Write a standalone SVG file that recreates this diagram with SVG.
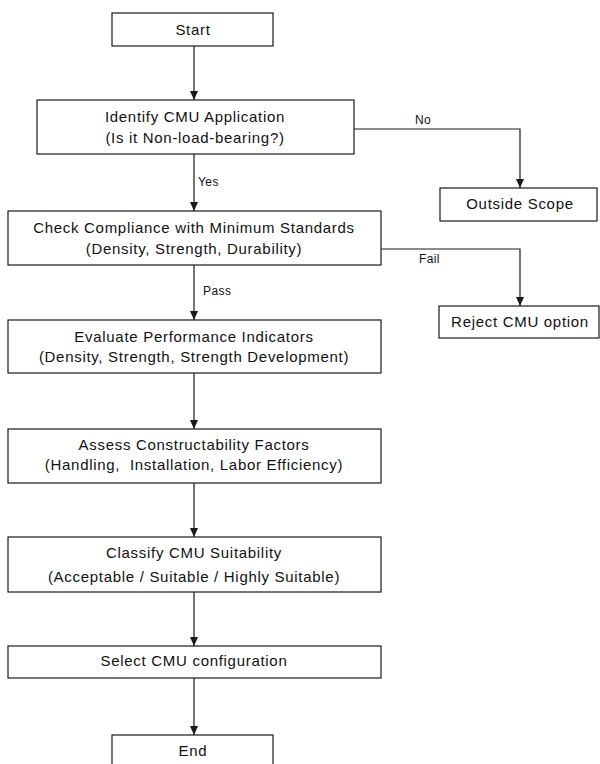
<svg xmlns="http://www.w3.org/2000/svg" width="600" height="764" viewBox="0 0 600 764">
<style>
.box{fill:#fff;stroke:#1a1a1a;stroke-width:1.2}
.t{font-family:"Liberation Sans",Arial,sans-serif;font-size:15px;letter-spacing:0.7px;fill:#111;text-anchor:middle}
.l{font-family:"Liberation Sans",Arial,sans-serif;font-size:12px;letter-spacing:0.4px;fill:#111}
.c{fill:none;stroke:#1a1a1a;stroke-width:1.2}
</style>
<defs>
<marker id="ah" markerWidth="9" markerHeight="8" refX="9" refY="4" orient="auto" markerUnits="userSpaceOnUse" viewBox="0 0 9 8">
<path d="M0,0 L9,4 L0,8 Z" fill="#1a1a1a"/>
</marker>
</defs>
<rect width="600" height="764" fill="#fff"/>
<g id="connectors">
<path class="c" d="M194,46 V100" marker-end="url(#ah)"/>
<path class="c" d="M194,154 V211" marker-end="url(#ah)"/>
<path class="c" d="M194,265 V320" marker-end="url(#ah)"/>
<path class="c" d="M194,373 V429" marker-end="url(#ah)"/>
<path class="c" d="M194,483 V537" marker-end="url(#ah)"/>
<path class="c" d="M194,592 V646" marker-end="url(#ah)"/>
<path class="c" d="M194,678 V735" marker-end="url(#ah)"/>
<path class="c" d="M354,129 H520 V188" marker-end="url(#ah)"/>
<path class="c" d="M381,249 H520 V306" marker-end="url(#ah)"/>
<text class="l" x="198" y="186">Yes</text>
<text class="l" x="203" y="295">Pass</text>
<text class="l" x="415" y="124">No</text>
<text class="l" x="419" y="263">Fail</text>
</g>
<g id="start"><rect class="box" x="112" y="13" width="161" height="33"/><text class="t" x="193" y="35">Start</text></g>
<g id="identify"><rect class="box" x="37" y="100" width="317" height="54"/><text class="t" x="195" y="122">Identify CMU Application</text><text class="t" x="195" y="143">(Is it Non-load-bearing?)</text></g>
<g id="outside"><rect class="box" x="440" y="188" width="157" height="33"/><text class="t" x="520" y="209">Outside Scope</text></g>
<g id="check"><rect class="box" x="8" y="211" width="373" height="54"/><text class="t" x="194" y="233">Check Compliance with Minimum Standards</text><text class="t" x="194" y="254">(Density, Strength, Durability)</text></g>
<g id="reject"><rect class="box" x="439" y="306" width="160" height="32"/><text class="t" x="520" y="327">Reject CMU option</text></g>
<g id="evaluate"><rect class="box" x="8" y="320" width="373" height="53"/><text class="t" x="194" y="342">Evaluate Performance Indicators</text><text class="t" x="194" y="362">(Density, Strength, Strength Development)</text></g>
<g id="assess"><rect class="box" x="8" y="429" width="373" height="54"/><text class="t" x="194" y="450">Assess Constructability Factors</text><text class="t" x="194" y="470" style="white-space:pre">(Handling,  Installation, Labor Efficiency)</text></g>
<g id="classify"><rect class="box" x="8" y="537" width="373" height="55"/><text class="t" x="194" y="558">Classify CMU Suitability</text><text class="t" x="194" y="582">(Acceptable / Suitable / Highly Suitable)</text></g>
<g id="select"><rect class="box" x="8" y="646" width="373" height="32"/><text class="t" x="194" y="666">Select CMU configuration</text></g>
<g id="end"><rect class="box" x="112" y="735" width="161" height="40"/><text class="t" x="193" y="756">End</text></g>
</svg>
